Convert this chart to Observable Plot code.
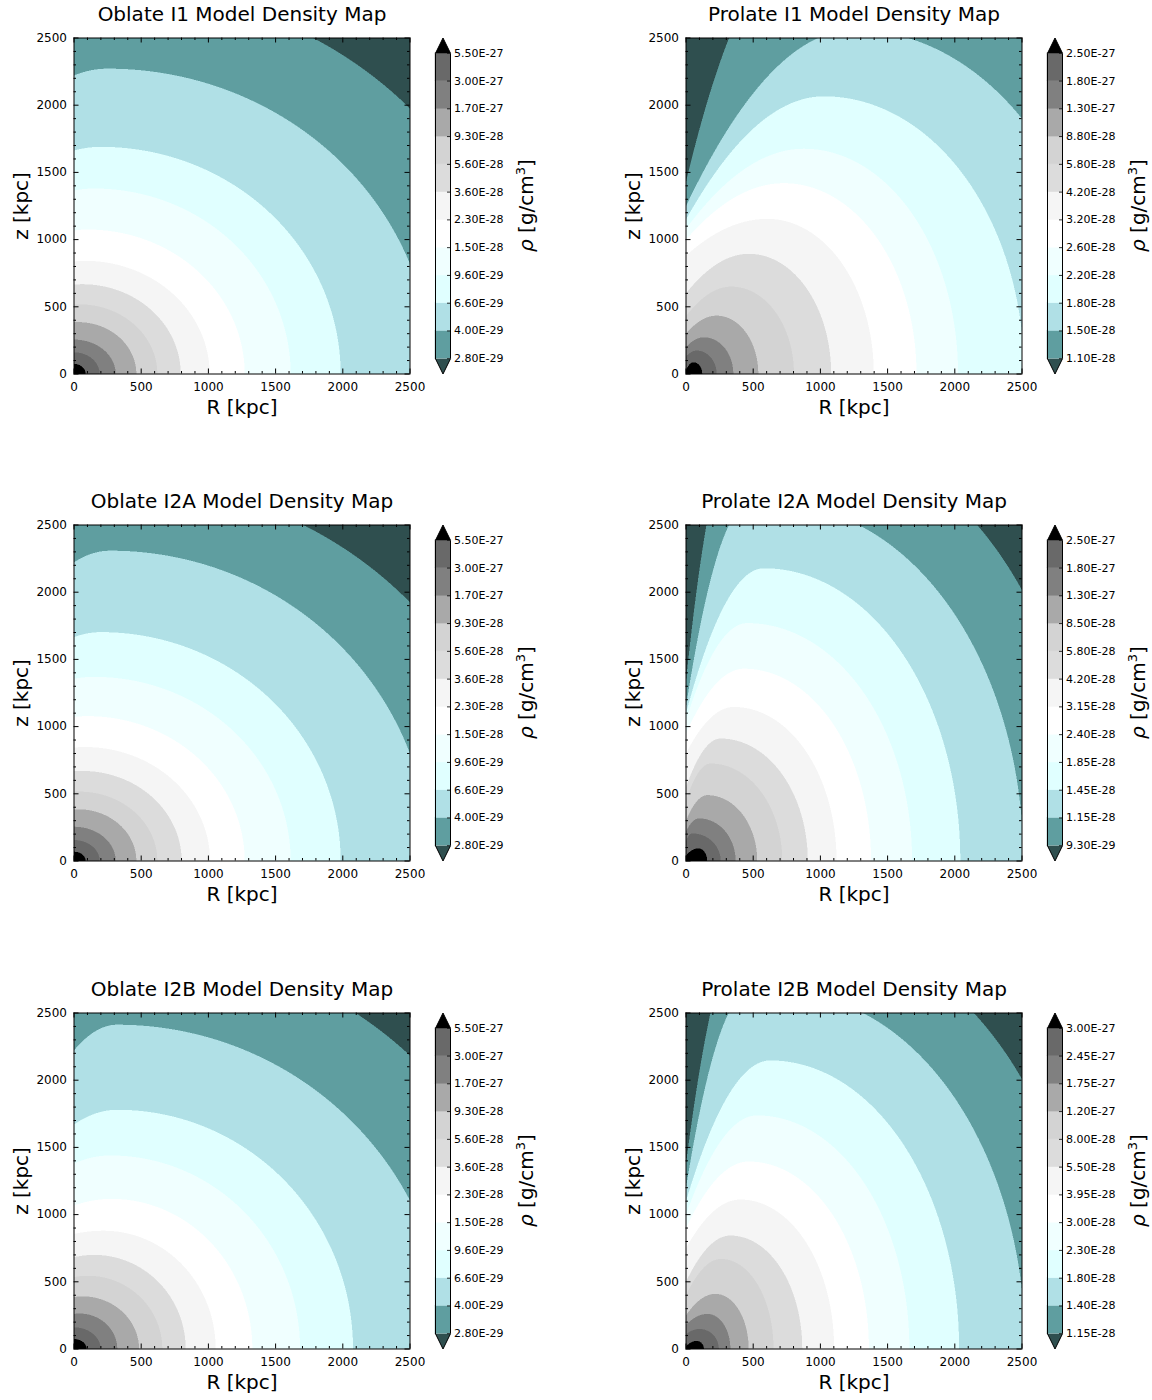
<!DOCTYPE html>
<html>
<head>
<meta charset="utf-8">
<script src="https://cdn.jsdelivr.net/npm/d3@7"></script>
<script src="https://cdn.jsdelivr.net/npm/@observablehq/plot@0.6"></script>
<style>
  body { margin: 0; background: #fff; }
  #page { position: relative; width: 1152px; height: 1400px; font-family: "DejaVu Sans", sans-serif; }
  #page > svg { position: absolute; }
</style>
</head>
<body>
<div id="page"></div>
<script>
// Filled-contour palette, from the lowest band (below the first level) to the highest.
const bandColors = ["darkslategray", "cadetblue", "powderblue", "lightcyan", "azure", "white",
  "whitesmoke", "gainsboro", "lightgray", "darkgray", "gray", "dimgray", "black"];

const axisTicks = [0, 500, 1000, 1500, 2000, 2500];
const minorTicks = [100, 200, 300, 400, 600, 700, 800, 900, 1100, 1200, 1300, 1400,
  1600, 1700, 1800, 1900, 2100, 2200, 2300, 2400];

// Contour levels in g/cm^3, ascending.
const oblateLevels = [2.8e-29, 4.0e-29, 6.6e-29, 9.6e-29, 1.5e-28, 2.3e-28, 3.6e-28, 5.6e-28, 9.3e-28, 1.7e-27, 3.0e-27, 5.5e-27];
const prolateI1Levels = [1.1e-28, 1.5e-28, 1.8e-28, 2.2e-28, 2.6e-28, 3.2e-28, 4.2e-28, 5.8e-28, 8.8e-28, 1.3e-27, 1.8e-27, 2.5e-27];
const prolateI2ALevels = [9.3e-29, 1.15e-28, 1.45e-28, 1.85e-28, 2.4e-28, 3.15e-28, 4.2e-28, 5.8e-28, 8.5e-28, 1.3e-27, 1.8e-27, 2.5e-27];
const prolateI2BLevels = [1.15e-28, 1.4e-28, 1.8e-28, 2.3e-28, 3.0e-28, 3.95e-28, 5.5e-28, 8.0e-28, 1.2e-27, 1.75e-27, 2.45e-27, 3.0e-27];

// Each iso-density contour, one per level (same order), in kpc:
// [R where it meets the plane, peak z, R where the peak starts, R where the peak ends, z on the axis]
const oblateI1Contours = [
  [3340, 2862, 300, 300, 2800], [2662, 2272, 250, 250, 2222], [1984, 1690, 200, 200, 1663],
  [1612, 1380, 150, 150, 1365], [1270, 1075, 100, 100, 1067], [1009, 842, 80, 80, 837],
  [794, 668, 60, 60, 665], [620, 518, 40, 40, 516], [464, 386, 30, 30, 385],
  [310, 256, 0, 0, 256], [191, 161, 0, 0, 161], [87, 75, 0, 0, 75]
];
const oblateI2AContours = [
  [3300, 2830, 300, 300, 2760], [2647, 2309, 270, 270, 2223], [1984, 1703, 200, 200, 1666],
  [1612, 1370, 150, 150, 1356], [1270, 1078, 100, 100, 1072], [1012, 848, 80, 80, 844],
  [801, 670, 60, 60, 668], [620, 516, 40, 40, 515], [464, 385, 30, 30, 384],
  [310, 255, 0, 0, 255], [191, 156, 0, 0, 156], [87, 69, 0, 0, 69]
];
const oblateI2BContours = [
  [3460, 3010, 380, 380, 2900], [2772, 2413, 320, 320, 2222], [2076, 1780, 322, 322, 1671],
  [1682, 1440, 270, 270, 1380], [1327, 1117, 280, 280, 1068], [1054, 880, 220, 220, 856],
  [831, 700, 150, 150, 683], [657, 545, 100, 100, 534], [484, 392, 60, 60, 385],
  [322, 264, 40, 40, 261], [198, 161, 0, 0, 161], [94, 74, 0, 0, 74]
];
const prolateI1Contours = [
  [4000, 3100, 800, 800, 1430], [3115, 2560, 1250, 1250, 1250], [2516, 2066, 1026, 1026, 1150],
  [2024, 1676, 877, 877, 1080], [1715, 1420, 728, 728, 1000], [1397, 1154, 605, 605, 880],
  [1080, 894, 468, 468, 600], [803, 650, 337, 337, 430], [538, 434, 228, 228, 300],
  [352, 273, 134, 134, 200], [228, 174, 80, 80, 130], [121, 87, 55, 55, 30]
];
const prolateI2AContours = [
  [2982, 3150, 380, 900, 1340], [2510, 2650, 468, 677, 1150], [2041, 2178, 579, 579, 1100],
  [1682, 1770, 455, 455, 1050], [1377, 1431, 431, 431, 950], [1120, 1146, 356, 356, 800],
  [906, 911, 257, 257, 550], [716, 725, 183, 183, 450], [530, 490, 158, 158, 300],
  [369, 317, 97, 97, 220], [258, 205, 47, 47, 150], [158, 94, 90, 90, 40]
];
const prolateI2BContours = [
  [3000, 3100, 444, 900, 1378], [2525, 2650, 468, 717, 1200], [2032, 2147, 626, 626, 1100],
  [1662, 1738, 528, 528, 1000], [1361, 1395, 466, 466, 900], [1102, 1112, 404, 404, 750],
  [865, 844, 330, 330, 500], [651, 670, 260, 260, 400], [466, 410, 219, 219, 250],
  [330, 261, 160, 160, 180], [244, 149, 100, 100, 110], [133, 60, 80, 80, 20]
];

const panelTitles = ["Oblate I1 Model Density Map", "Prolate I1 Model Density Map",
  "Oblate I2A Model Density Map", "Prolate I2A Model Density Map",
  "Oblate I2B Model Density Map", "Prolate I2B Model Density Map"];

const panels = [
  {title: panelTitles[0], levels: oblateLevels, contours: oblateI1Contours, row: 0, col: 0},
  {title: panelTitles[1], levels: prolateI1Levels, contours: prolateI1Contours, row: 0, col: 1},
  {title: panelTitles[2], levels: oblateLevels, contours: oblateI2AContours, row: 1, col: 0},
  {title: panelTitles[3], levels: prolateI2ALevels, contours: prolateI2AContours, row: 1, col: 1},
  {title: panelTitles[4], levels: oblateLevels, contours: oblateI2BContours, row: 2, col: 0},
  {title: panelTitles[5], levels: prolateI2BLevels, contours: prolateI2BContours, row: 2, col: 1}
];

// Layout of the 3 x 2 grid of panels.
const ROW_TOP = [0, 487, 975];
const COL_LEFT = [0, 612];
const MT = 37.5, MB = 66, FH = 336, FW = 336, ML = 73.5, MR = 22;
const FONT = "DejaVu Sans";

// Height of a contour above the plane at cylindrical radius R.
function contourHeight([a, h, cL, cR, z0], R) {
  if (R >= a) return -Infinity;
  if (R < cL) { const t = 1 - R / cL; return z0 + (h - z0) * (1 - t * t); }
  if (R <= cR) return h;
  const u = (R - cR) / (a - cR);
  return h * Math.sqrt(1 - u * u);
}

// Index of the filled band containing (R, z): number of the innermost contour enclosing it.
const bandAt = contours => (R, z) => {
  let k = 0;
  for (let i = 0; i < contours.length; ++i) if (z < contourHeight(contours[i], R)) k = i + 1;
  return k;
};

const fmt = v => v.toExponential(2).toUpperCase();

function densityMap(p) {
  return Plot.plot({
    width: ML + FW + MR, height: MT + FH + MB,
    marginLeft: ML, marginRight: MR, marginTop: MT, marginBottom: MB,
    x: {domain: [0, 2500], axis: null},
    y: {domain: [0, 2500], axis: null},
    color: {type: "ordinal", domain: d3.range(bandColors.length), range: bandColors},
    style: {fontFamily: FONT, color: "black", background: "transparent", overflow: "visible"},
    marks: [
      Plot.raster({fill: bandAt(p.contours), x1: 0, x2: 2500, y1: 0, y2: 2500, pixelSize: 0.5}),
      // inward ticks on all four sides
      Plot.tickX(axisTicks, {x: d => d, insetTop: FH - 5, stroke: "black"}),
      Plot.tickX(axisTicks, {x: d => d, insetBottom: FH - 5, stroke: "black"}),
      Plot.tickY(axisTicks, {y: d => d, insetRight: FW - 5, stroke: "black"}),
      Plot.tickY(axisTicks, {y: d => d, insetLeft: FW - 5, stroke: "black"}),
      Plot.tickX(minorTicks, {x: d => d, insetTop: FH - 2.5, stroke: "black"}),
      Plot.tickX(minorTicks, {x: d => d, insetBottom: FH - 2.5, stroke: "black"}),
      Plot.tickY(minorTicks, {y: d => d, insetRight: FW - 2.5, stroke: "black"}),
      Plot.tickY(minorTicks, {y: d => d, insetLeft: FW - 2.5, stroke: "black"}),
      Plot.frame({stroke: "black"}),
      Plot.text(axisTicks, {x: d => d, text: d => String(d), frameAnchor: "bottom", lineAnchor: "top", dy: 8.5, fontSize: 12}),
      Plot.text(axisTicks, {y: d => d, text: d => String(d), frameAnchor: "left", textAnchor: "end", lineAnchor: "middle", dx: -7, fontSize: 12}),
      Plot.text(["R [kpc]"], {text: d => d, frameAnchor: "bottom", lineAnchor: "top", dy: 26, fontSize: 20}),
      Plot.text(["z [kpc]"], {text: d => d, frameAnchor: "left", textAnchor: "middle", lineAnchor: "middle", rotate: -90, dx: -52, fontSize: 20}),
      Plot.text([p.title], {text: d => d, frameAnchor: "top", lineAnchor: "middle", dy: -23, fontSize: 20})
    ]
  });
}

function colorbar(p) {
  const n = p.levels.length - 1;       // interior bands
  const ext = 0.05 * n;                // length of each extension triangle
  const bands = d3.range(n).map(i => ({lo: i, hi: i + 1, color: bandColors[i + 1]}));
  const topCap = [{x: 0, y: n}, {x: 0.5, y: n + ext}, {x: 1, y: n}];
  const bottomCap = [{x: 0, y: 0}, {x: 0.5, y: -ext}, {x: 1, y: 0}];
  const outline = [{x: 0, y: 0}, {x: 0, y: n}, {x: 0.5, y: n + ext}, {x: 1, y: n},
    {x: 1, y: 0}, {x: 0.5, y: -ext}, {x: 0, y: 0}];
  const svg = Plot.plot({
    width: 118, height: MT + FH + MB,
    marginLeft: 3, marginRight: 100, marginTop: MT, marginBottom: MB,
    x: {domain: [0, 1], axis: null},
    y: {domain: [-ext, n + ext], axis: null},
    color: {type: "identity"},
    style: {fontFamily: FONT, color: "black", background: "transparent", overflow: "visible"},
    marks: [
      Plot.rect(bands, {x1: 0, x2: 1, y1: "lo", y2: "hi", fill: "color", stroke: "color", strokeWidth: 0.5}),
      Plot.line(topCap, {x: "x", y: "y", fill: bandColors[bandColors.length - 1], stroke: "none"}),
      Plot.line(bottomCap, {x: "x", y: "y", fill: bandColors[0], stroke: "none"}),
      Plot.line(outline, {x: "x", y: "y", stroke: "black", strokeWidth: 1, strokeLinejoin: "miter"}),
      Plot.ruleY(p.levels, {y: (d, i) => i, x1: 0.8, x2: 1, stroke: "black", strokeWidth: 0.8}),
      Plot.text(p.levels, {x: 1, y: (d, i) => i, text: d => fmt(d), textAnchor: "start", dx: 3.5, fontSize: 11})
    ]
  });
  const label = d3.select(svg).append("text")
    .attr("transform", `translate(94,${MT + FH / 2}) rotate(-90)`)
    .attr("text-anchor", "middle").attr("dy", "0.35em")
    .attr("font-family", FONT).attr("font-size", 20).attr("fill", "black");
  label.append("tspan").attr("font-style", "italic").text("ρ");
  label.append("tspan").text(" [g/cm");
  label.append("tspan").attr("font-size", 13).attr("dy", -8).text("3");
  label.append("tspan").attr("dy", 8).text("]");
  return svg;
}

const page = document.getElementById("page");
for (const p of panels) {
  const map = densityMap(p);
  map.style.left = `${COL_LEFT[p.col]}px`;
  map.style.top = `${ROW_TOP[p.row]}px`;
  page.appendChild(map);
  const bar = colorbar(p);
  bar.style.left = `${COL_LEFT[p.col] + 432}px`;
  bar.style.top = `${ROW_TOP[p.row]}px`;
  page.appendChild(bar);
}
</script>
</body>
</html>
